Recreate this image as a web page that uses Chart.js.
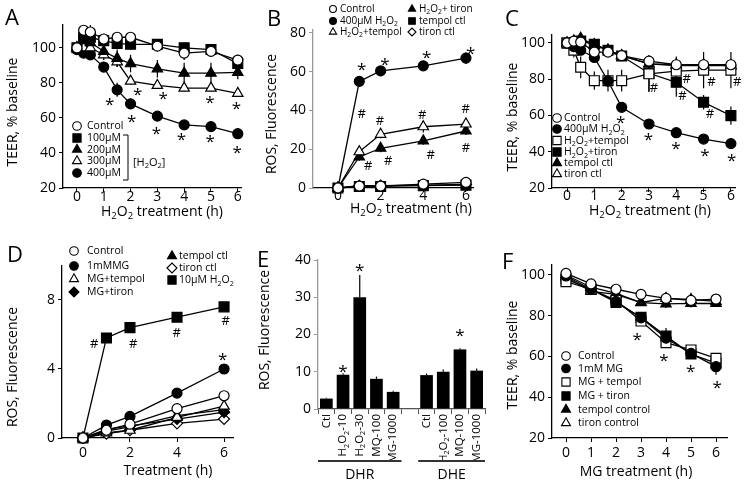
<!DOCTYPE html>
<html><head><meta charset="utf-8">
<script src="https://cdn.jsdelivr.net/npm/chart.js@4.4.1/dist/chart.umd.min.js"></script>
<style>
html,body{margin:0;padding:0;background:#fff;}
#wrap{position:relative;width:750px;height:486px;overflow:hidden;background:#fff;}
.p{position:absolute;width:250px;height:243px;}
.p canvas{display:block;}
</style></head><body>
<div id="wrap">
<div class="p" style="left:0;top:0"><canvas id="cA" width="250" height="243"></canvas></div>
<div class="p" style="left:250px;top:0"><canvas id="cB" width="250" height="243"></canvas></div>
<div class="p" style="left:500px;top:0"><canvas id="cC" width="250" height="243"></canvas></div>
<div class="p" style="left:0;top:243px"><canvas id="cD" width="250" height="243"></canvas></div>
<div class="p" style="left:250px;top:243px"><canvas id="cE" width="250" height="243"></canvas></div>
<div class="p" style="left:500px;top:243px"><canvas id="cF" width="250" height="243"></canvas></div>
</div>
<script>
// ================= DATA =================
// Panel A
const A_time = [0, 0.25, 0.5, 1, 1.5, 2, 3, 4, 5, 6];
const A_control = [100, 110, 109, 105, 106, 106, 101, 97, 98, 93];
const A_100uM = [100, 106, 106, 104, 102.5, 102, 102, 100, 99, 91];
const A_200uM = [100, 104, 103, 98, 94, 91, 88, 85.5, 85.5, 86];
const A_300uM = [100, 100, 100, 96, 92, 81, 78.5, 77, 77, 74];
const A_400uM = [99, 97, 96, 89, 76, 68, 61, 56, 55, 51];
const A_err_control = [1, 3, 4, 3, 3, 3, 3, 4, 3, 3];
const A_err_100uM = [2, 3, 3, 3, 3, 3, 3, 3, 3, 3];
const A_err_200uM = [2, 3, 3, 4, 5, 5, 5, 6, 6, 4];
const A_err_300uM = [2, 3, 3, 3, 3, 2, 2, 2, 2, 2];
const A_err_400uM = [2, 3, 3, 3, 4, 3, 2, 2, 2, 2];
const A_xTicks = [0, 1, 2, 3, 4, 5, 6];
const A_yTicks = [20, 40, 60, 80, 100];
const A_stars = [[1.22,70.4],[2.27,75.8],[3.22,73.3],[4.96,71.4],[5.95,68],[2.04,60.6],[2.97,53.7],[3.9,49.9],[4.97,49.1],[5.98,42.9]];

// Panel B
const B_time = [0, 1, 2, 4, 6];
const B_control = [0, 1, 1, 2, 2.9];
const B_400uM = [0, 55, 60.4, 63, 67];
const B_tempol = [0, 18.7, 27.7, 31.6, 33];
const B_tiron = [0, 16, 20.5, 24.3, 29.4];
const B_tempolCtl = [0, 0.8, 0.8, 1.2, 1.5];
const B_tironCtl = [0, 1.2, 1.2, 1.5, 1.8];
const B_err_400uM = [0, 1, 2, 2, 3];
const B_err_tempol = [0, 2, 2, 3, 3];
const B_err_tiron = [0, 2, 2, 2, 2];
const B_err_small = [0, 1, 1, 1, 1];
const B_xTicks = [0, 2, 4, 6];
const B_yTicks = [0, 20, 40, 60, 80];
const B_stars = [[1.11,63.5],[2.2,66],[4.16,69.5],[6.22,71.6]];
const B_hash = [[1.11,38.5],[1.42,11.9],[1.97,35],[2.36,14.2],[3.95,38],[4.35,17.5],[5.99,41],[6,21]];

// Panel C
const C_time = [0, 0.25, 0.5, 1, 1.5, 2, 3, 4, 5, 6];
const C_control = [100, 101, 100.5, 95, 95, 93, 90, 88, 88, 88];
const C_400uM = [100, 98, 96, 92, 79, 64.5, 55.3, 50.5, 47, 44.5];
const C_tempol = [100, 96, 86.6, 79.2, 79.2, 79.2, 83, 84.5, 85, 85];
const C_tiron = [100, 100, 101, 99.3, 96, 92.8, 83.3, 78.3, 67.3, 59.9];
const C_tempolCtl = [100, 101, 102.6, 99, 96, 93, 88.5, 87.5, 87.5, 87.5];
const C_tironCtl = [100, 101, 102, 99, 96, 93, 88.5, 88, 88, 87.5];
const C_err_control = [1, 2, 2, 2, 2, 2, 2, 2, 2, 2];
const C_err_400uM = [1, 2, 2, 2, 2, 2, 2, 2, 2, 2];
const C_err_tempol = [1, 4, 6, 5, 6, 6, 10, 8, 10, 10];
const C_err_tiron = [1, 2, 2, 2, 2, 2, 10, 8, 4, 5];
const C_err_ctl = [1, 2, 2, 2, 2, 2, 2, 2, 2, 2];
const C_xTicks = [0, 1, 2, 3, 4, 5, 6];
const C_yTicks = [20, 40, 60, 80, 100];
const C_stars = [[1.96,58.4],[2.98,49.2],[3.99,44.3],[5.05,40.6],[6.03,37.7]];
const C_hash = [[3.18,75.6],[4.38,80.5],[4.23,70.9],[5.29,78.7],[5.23,61.2],[6.23,78.7]];

// Panel D
const D_time = [0, 1, 2, 4, 6];
const D_control = [0, 0.45, 0.8, 1.7, 2.45];
const D_MG = [0, 0.75, 1.25, 2.6, 4.0];
const D_MGtempol = [0, 0.3, 0.45, 1.2, 1.85];
const D_MGtiron = [0, 0.5, 0.7, 1.1, 1.5];
const D_tempolCtl = [0, 0.4, 0.65, 1.3, 1.65];
const D_tironCtl = [0, 0.25, 0.45, 0.85, 1.1];
const D_H2O2 = [0, 5.8, 6.4, 7.0, 7.6];
const D_err_H2O2 = [0, 0.1, 0.15, 0.25, 0.15];
const D_xTicks = [0, 2, 4, 6];
const D_yTicks = [0, 4, 8];
const D_stars = [[5.94,4.83]];
const D_hash = [[0.48,5.5],[2.14,5.5],[3.99,6.15],[6.07,6.8]];

// Panel E
const E_labels = ['Ctl', 'H₂O₂-10', 'H₂O₂-30', 'MQ-100', 'MG-1000', '', 'Ctl', 'H₂O₂-100', 'MQ-100', 'MG-1000'];
const E_values = [2.8, 9.2, 30, 8.1, 4.6, null, 9.1, 10, 16, 10.3];
const E_err = [0.2, 0.4, 6, 0.6, 0.3, null, 0.4, 0.6, 0.3, 0.6];
const E_groups = [['DHR', 0, 4], ['DHE', 6, 9]];
const E_yTicks = [0, 10, 20, 30, 40];
const E_stars = [[1, 11.3], [2, 38.3], [8, 20.9]];

// Panel F
const F_time = [0, 1, 2, 3, 4, 5, 6];
const F_control = [100.8, 95.6, 93, 90.5, 88.5, 87.5, 88.2];
const F_MG = [99.5, 93, 87, 79, 69, 61.5, 55];
const F_MGtempol = [96.7, 93, 87.6, 77.4, 66.8, 63.2, 59.1];
const F_MGtiron = [98, 93, 86.5, 79.2, 70, 61.2, 56.7];
const F_tempolCtl = [99, 92, 90.5, 86.4, 85.8, 86.1, 86];
const F_tironCtl = [100, 94, 91, 86.5, 88.5, 88, 87];
const F_err_MG = [1, 1, 1, 2, 3, 2, 4];
const F_err_MGtiron = [1, 1, 1, 2, 4, 2, 4];
const F_err_ctl = [1, 1, 1, 1, 2, 2, 1];
const F_xTicks = [0, 1, 2, 3, 4, 5, 6];
const F_yTicks = [20, 40, 60, 80, 100];
const F_stars = [[2.85,70.7],[3.92,60.1],[4.99,54.7],[6.05,46.7]];

// ================= DRAWING =================
const FONT = "'Open Sans', 'DejaVu Sans', sans-serif";
const W = 250, H = 243;
const OPEN = '#fff', FILLED = '#000';
const SZ = {circle: 5, rect: 7, triangle: 6, rectRot: 5.5};
const LSZ = {circle: 4.3, rect: 5.8, triangle: 5.2, rectRot: 5};

function ser(label, y, style, fill, err) { return {label, y, style, fill, err}; }

// text with real subscripts for the "₂" character
function drawRich(ctx, text, x, y, size, align, subRatio) {
  const r = subRatio || 0.68;
  const parts = []; let buf = '';
  for (const ch of text) {
    if (ch === '₂') { if (buf) parts.push({t: buf, s: false}); buf = ''; parts.push({t: '2', s: true}); }
    else buf += ch;
  }
  if (buf) parts.push({t: buf, s: false});
  let w = 0;
  parts.forEach(p => { ctx.font = (p.s ? size * r : size) + 'px ' + FONT; p.w = ctx.measureText(p.t).width; w += p.w; });
  let cx = align === 'center' ? x - w / 2 : (align === 'right' ? x - w : x);
  ctx.textAlign = 'left'; ctx.textBaseline = 'middle';
  parts.forEach(p => {
    ctx.font = (p.s ? size * r : size) + 'px ' + FONT;
    ctx.fillText(p.t, cx, p.s ? y + size * 0.3 : y);
    cx += p.w;
  });
}

function extras(P) {
  return {
    id: 'extras',
    beforeDatasetsDraw(chart) {
      const ctx = chart.ctx, ys = chart.scales.y;
      ctx.save(); ctx.strokeStyle = '#000'; ctx.lineWidth = 1.2;
      P.series.forEach((s, i) => {
        if (!s.err) return;
        const meta = chart.getDatasetMeta(i);
        meta.data.forEach((el, j) => {
          const e = s.err[j], v = s.y[j];
          if (!e || v == null) return;
          const t = ys.getPixelForValue(v + e);
          const b = P.errUp ? ys.getPixelForValue(v) : ys.getPixelForValue(v - e);
          ctx.beginPath(); ctx.moveTo(el.x, t); ctx.lineTo(el.x, b); ctx.stroke();
        });
      });
      ctx.restore();
    },
    afterDatasetsDraw(chart) {
      const ctx = chart.ctx, xs = chart.scales.x, ys = chart.scales.y;
      ctx.save(); ctx.fillStyle = '#000'; ctx.textAlign = 'center'; ctx.textBaseline = 'alphabetic';
      (P.stars || []).forEach(n => {
        const px = xs.getPixelForValue(n[0]), py = ys.getPixelForValue(n[1]);
        ctx.font = '17px ' + FONT; ctx.fillText('*', px, py + 0.58 * 17);
      });
      (P.hash || []).forEach(n => {
        const px = xs.getPixelForValue(n[0]), py = ys.getPixelForValue(n[1]);
        ctx.font = '13px ' + FONT; ctx.fillText('#', px, py + 0.36 * 13);
      });
      ctx.restore();
    },
    afterDraw(chart) {
      const ctx = chart.ctx;
      ctx.save();
      if (P.legend) {
        P.legend.forEach((pos, i) => {
          const s = P.series[i];
          ctx.fillStyle = s.fill; ctx.strokeStyle = '#000'; ctx.lineWidth = 1.1;
          Chart.helpers.drawPoint(ctx, {pointStyle: s.style, radius: (P.legendScale || 1) * LSZ[s.style], rotation: 0, borderWidth: 1.1}, pos[0], pos[2]);
          ctx.fillStyle = '#000';
          drawRich(ctx, s.label, pos[1], pos[2] + 0.5, P.legendFont || 10.5, 'left');
        });
      }
      if (P.bracket) {
        const b = P.bracket;
        ctx.strokeStyle = '#000'; ctx.lineWidth = 1;
        ctx.beginPath(); ctx.moveTo(b.x - 5, b.y1); ctx.lineTo(b.x, b.y1); ctx.lineTo(b.x, b.y2); ctx.lineTo(b.x - 5, b.y2); ctx.stroke();
        ctx.fillStyle = '#000';
        drawRich(ctx, b.text, b.tx, b.ty, 11, 'left');
      }
      if (P.catLabels) {
        const xs = chart.scales.x;
        ctx.fillStyle = '#000';
        P.catLabels.forEach((t, i) => {
          if (!t) return;
          ctx.save();
          ctx.translate(xs.getPixelForValue(i), xs.top + P.catLabelGap);
          ctx.rotate(-Math.PI / 2);
          drawRich(ctx, t, 0, 0, P.catLabelSize, 'right', 0.62);
          ctx.restore();
        });
      }
      if (P.groups) {
        const xs = chart.scales.x;
        const half = (xs.getPixelForValue(1) - xs.getPixelForValue(0)) / 2;
        P.groups.forEach(g => {
          const x0 = xs.getPixelForValue(g[1]) - half, x1 = xs.getPixelForValue(g[2]) + half;
          ctx.strokeStyle = '#333'; ctx.lineWidth = 2.2;
          ctx.beginPath(); ctx.moveTo(x0, P.groupLineY); ctx.lineTo(x1, P.groupLineY); ctx.stroke();
          ctx.fillStyle = '#000';
          drawRich(ctx, g[0], (x0 + x1) / 2, P.groupTextY, 14, 'center');
        });
      }
      // axis titles
      ctx.fillStyle = '#000';
      if (P.xTitle) drawRich(ctx, P.xTitle, P.xTitleAt[0], P.xTitleAt[1], 14, 'center');
      if (P.yTitle) {
        ctx.save(); ctx.translate(P.yTitleAt[0], P.yTitleAt[1]); ctx.rotate(-Math.PI / 2);
        drawRich(ctx, P.yTitle, 0, 0, 14, 'center'); ctx.restore();
      }
      ctx.fillStyle = '#000'; ctx.font = '22px ' + FONT; ctx.textAlign = 'left'; ctx.textBaseline = 'alphabetic';
      ctx.fillText(P.letter[0], P.letter[1], P.letter[2]);
      ctx.restore();
    }
  };
}

function axisCommon(color) {
  return {
    grid: {display: true, drawOnChartArea: false, drawTicks: true, tickLength: 4, tickColor: color, color: color, lineWidth: 1},
    border: {display: true, color: color, width: 1.3},
  };
}

function linePanel(id, P) {
  const datasets = P.series.map(s => ({
    label: s.label,
    data: P.x.map((xv, i) => ({x: xv, y: s.y[i]})),
    borderColor: '#000', borderWidth: 1.3,
    pointStyle: s.style, pointRadius: SZ[s.style],
    pointBackgroundColor: s.fill, pointBorderColor: '#000', pointBorderWidth: 1.2,
    fill: false, tension: 0, clip: false
  }));
  const b = P.box;
  new Chart(document.getElementById(id), {
    type: 'line',
    data: {datasets},
    options: {
      responsive: false, animation: false, devicePixelRatio: 1,
      layout: {padding: {top: b.top, right: W - b.right, left: 0, bottom: 0}},
      plugins: {legend: {display: false}, tooltip: {enabled: false}},
      scales: {
        x: Object.assign(axisCommon('#000'), {
          type: 'linear', min: P.xMin, max: P.xMax,
          afterBuildTicks: s => { s.ticks = P.xTicks.map(v => ({value: v})); },
          afterFit: s => { s.height = H - b.bottom; },
          ticks: {color: '#000', font: {family: FONT, size: 14, lineHeight: 1}, padding: P.xTickPad, maxRotation: 0, autoSkip: false},
          title: {display: false}
        }),
        y: Object.assign(axisCommon(P.yColor || '#000'), {
          type: 'linear', min: P.yMin, max: P.yMax,
          afterBuildTicks: s => { s.ticks = P.yTicks.map(v => ({value: v})); },
          afterFit: s => { s.width = b.left; },
          ticks: {color: '#000', font: {family: FONT, size: 14}, padding: 3, autoSkip: false},
          title: {display: false}
        })
      }
    },
    plugins: [extras(P)]
  });
}

// Panel A
linePanel('cA', {
  x: A_time,
  series: [
    ser('Control', A_control, 'circle', OPEN, A_err_control),
    ser('100µM', A_100uM, 'rect', FILLED, A_err_100uM),
    ser('200µM', A_200uM, 'triangle', FILLED, A_err_200uM),
    ser('300µM', A_300uM, 'triangle', OPEN, A_err_300uM),
    ser('400µM', A_400uM, 'circle', FILLED, A_err_400uM)
  ],
  box: {left: 63, right: 243, top: 25, bottom: 188},
  xMin: -0.52, xMax: 6.15, yMin: 20, yMax: 113,
  xTicks: A_xTicks, yTicks: A_yTicks, xTickPad: -2,
  xTitle: 'H₂O₂ treatment (h)', xTitleAt: [162, 212], yTitle: 'TEER, % baseline', yTitleAt: [13, 112],
  stars: A_stars,
  legend: [[77, 87, 126], [77, 87, 138], [77, 87, 149.5], [77, 87, 161], [77, 87, 173]],
  bracket: {x: 128, y1: 135, y2: 180, text: '[H₂O₂]', tx: 133, ty: 163},
  letter: ['A', 5, 25]
});

// Panel B
linePanel('cB', {
  x: B_time,
  series: [
    ser('Control', B_control, 'circle', OPEN, B_err_small),
    ser('400µM H₂O₂', B_400uM, 'circle', FILLED, B_err_400uM),
    ser('H₂O₂+tempol', B_tempol, 'triangle', OPEN, B_err_tempol),
    ser('H₂O₂+ tiron', B_tiron, 'triangle', FILLED, B_err_tiron),
    ser('tempol ctl', B_tempolCtl, 'rect', FILLED, null),
    ser('tiron ctl', B_tironCtl, 'rectRot', OPEN, null)
  ],
  box: {left: 63, right: 223, top: 30, bottom: 188},
  xMin: -1.17, xMax: 6.33, yMin: 0, yMax: 81.5,
  xTicks: B_xTicks, yTicks: B_yTicks, yColor: '#999', xTickPad: -3,
  xTitle: 'H₂O₂ treatment (h)', xTitleAt: [161, 209], yTitle: 'ROS, Fluorescence', yTitleAt: [22, 114],
  stars: B_stars, hash: B_hash,
  legend: [[83, 90, 9], [83, 90, 21], [83, 90, 32], [162, 169, 9], [162, 169, 21], [162, 169, 32]],
  legendFont: 10, legendScale: 0.8,
  letter: ['B', 17, 26]
});

// Panel C
linePanel('cC', {
  x: C_time,
  series: [
    ser('Control', C_control, 'circle', OPEN, C_err_control),
    ser('400µM H₂O₂', C_400uM, 'circle', FILLED, C_err_400uM),
    ser('H₂O₂+tempol', C_tempol, 'rect', OPEN, C_err_tempol),
    ser('H₂O₂+tiron', C_tiron, 'rect', FILLED, C_err_tiron),
    ser('tempol ctl', C_tempolCtl, 'triangle', FILLED, C_err_ctl),
    ser('tiron ctl', C_tironCtl, 'triangle', OPEN, C_err_ctl)
  ],
  box: {left: 52, right: 235, top: 35, bottom: 188},
  xMin: -0.55, xMax: 6.15, yMin: 20, yMax: 104.4,
  xTicks: C_xTicks, yTicks: C_yTicks, xTickPad: -3,
  xTitle: 'H₂O₂ treatment (h)', xTitleAt: [150, 211], yTitle: 'TEER, % baseline', yTitleAt: [13, 117],
  stars: C_stars, hash: C_hash,
  legend: [[57, 64, 118], [57, 64, 129], [57, 64, 140.5], [57, 64, 152], [57, 64, 163], [57, 64, 174]],
  letter: ['C', 5, 26]
});

// Panel D
linePanel('cD', {
  x: D_time,
  series: [
    ser('Control', D_control, 'circle', OPEN, null),
    ser('1mMMG', D_MG, 'circle', FILLED, null),
    ser('MG+tempol', D_MGtempol, 'triangle', OPEN, null),
    ser('MG+tiron', D_MGtiron, 'rectRot', FILLED, null),
    ser('tempol ctl', D_tempolCtl, 'triangle', FILLED, null),
    ser('tiron ctl', D_tironCtl, 'rectRot', OPEN, null),
    ser('10µM H₂O₂', D_H2O2, 'rect', FILLED, D_err_H2O2)
  ],
  box: {left: 62, right: 233, top: 23, bottom: 195},
  xMin: -0.89, xMax: 6.38, yMin: 0, yMax: 9.97,
  xTicks: D_xTicks, yTicks: D_yTicks, xTickPad: 4,
  xTitle: 'Treatment (h)', xTitleAt: [168, 228], yTitle: 'ROS, Fluorescence', yTitleAt: [13, 124],
  stars: D_stars, hash: D_hash,
  legend: [[74, 87, 8], [74, 87, 23], [74, 87, 36], [74, 87, 49], [172, 179, 13], [172, 179, 25], [172, 179, 37]],
  letter: ['D', 7, 19]
});

// Panel F
linePanel('cF', {
  x: F_time,
  series: [
    ser('Control', F_control, 'circle', OPEN, F_err_ctl),
    ser('1mM MG', F_MG, 'circle', FILLED, F_err_MG),
    ser('MG + tempol', F_MGtempol, 'rect', OPEN, F_err_ctl),
    ser('MG + tiron', F_MGtiron, 'rect', FILLED, F_err_MGtiron),
    ser('tempol control', F_tempolCtl, 'triangle', FILLED, F_err_ctl),
    ser('tiron control', F_tironCtl, 'triangle', OPEN, F_err_ctl)
  ],
  box: {left: 52, right: 227, top: 22, bottom: 195},
  xMin: -0.56, xMax: 6.44, yMin: 20, yMax: 104.9,
  xTicks: F_xTicks, yTicks: F_yTicks, xTickPad: 4,
  xTitle: 'MG treatment (h)', xTitleAt: [136, 229], yTitle: 'TEER, % baseline', yTitleAt: [13, 112],
  stars: F_stars,
  legend: [[66, 78, 113], [66, 78, 125.5], [66, 78, 139], [66, 78, 153], [66, 78, 166.5], [66, 78, 180]],
  letter: ['F', 2, 26]
});

// Panel E (bars)
(function () {
  const P = {
    series: [{label: 'ROS', y: E_values, err: E_err}],
    errUp: true, stars: E_stars, groups: E_groups, groupLineY: 218, groupTextY: 232,
    catLabels: E_labels, catLabelGap: 5, catLabelSize: 11.5,
    yTitle: 'ROS, Fluorescence', yTitleAt: [15, 87],
    letter: ['E', 7, 24]
  };
  const b = {left: 68, right: 235, top: 17, bottom: 166};
  new Chart(document.getElementById('cE'), {
    type: 'bar',
    data: {labels: E_labels, datasets: [{data: E_values, backgroundColor: '#000', borderWidth: 0, barPercentage: 0.76, categoryPercentage: 1}]},
    options: {
      responsive: false, animation: false, devicePixelRatio: 1,
      layout: {padding: {top: b.top, right: W - b.right, left: 0, bottom: 0}},
      plugins: {legend: {display: false}, tooltip: {enabled: false}},
      scales: {
        x: {
          type: 'category', offset: true,
          grid: {display: true, drawOnChartArea: false, offset: true, tickLength: 5, tickColor: '#555', color: '#555'},
          border: {display: true, color: '#555', width: 1.3},
          afterFit: s => { s.height = H - b.bottom; },
          ticks: {display: false}
        },
        y: {
          type: 'linear', min: 0, max: 40,
          grid: {display: true, drawOnChartArea: false, tickLength: 4, tickColor: '#999', color: '#999'},
          border: {display: true, color: '#999', width: 1.3},
          afterBuildTicks: s => { s.ticks = E_yTicks.map(v => ({value: v})); },
          afterFit: s => { s.width = b.left; },
          ticks: {color: '#000', font: {family: FONT, size: 14}, padding: 3},
          title: {display: false}
        }
      }
    },
    plugins: [extras(P)]
  });
})();
</script>
</body></html>
